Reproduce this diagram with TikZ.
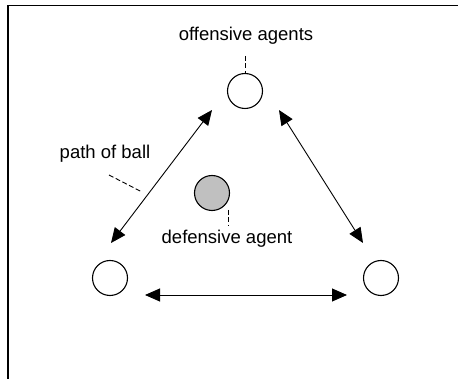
\documentclass[tikz,border=0pt]{standalone}
\usepackage{fontspec}
\setmainfont{Liberation Sans}
\usetikzlibrary{arrows.meta}
\begin{document}
\begin{tikzpicture}[x=1pt,y=-1pt,
  agent/.style={circle,draw,line width=1.1pt,minimum size=35pt,inner sep=0pt},
  lbl/.style={anchor=base,inner sep=0pt,font=\fontsize{18.5}{22}\selectfont},
  pass/.style={line width=0.9pt,{Triangle[length=15pt,width=13pt]}-{Triangle[length=15pt,width=13pt]}},
  tick/.style={dash pattern=on 5pt off 2.5pt,line width=0.9pt}]
\useasboundingbox (0,0) rectangle (458,379);
\draw[line width=1.3pt] (8,380) -- (8,5.5) -- (459,5.5);
\node[agent] (top) at (245,91) {};
\node[agent] (bl) at (110,278) {};
\node[agent] (br) at (381,278) {};
\node[agent,fill={rgb,255:red,192;green,192;blue,192}] (def) at (212,193) {};
\node[lbl] (offl) at (246,41) {offensive agents};
\node[lbl] (defl) at (227,244) {defensive agent};
\node[lbl] (pathl) at (105,159) {path of ball};
\coordinate (a1) at (212,110);
\coordinate (a2) at (111,243);
\coordinate (b1) at (279,110);
\coordinate (b2) at (363,243);
\coordinate (c1) at (145,295);
\coordinate (c2) at (347,295);
\draw[pass] (a1) -- (a2);
\draw[pass] (b1) -- (b2);
\draw[pass] (c1) -- (c2);
\coordinate (t1) at (245,56);
\coordinate (d1) at (228,210);
\coordinate (d2) at (228,226);
\coordinate (p1) at (109,175);
\coordinate (p2) at (142,192);
\draw[tick] (t1) -- (top.north);
\draw[tick] (d1) -- (d2);
\draw[tick] (p1) -- (p2);
\end{tikzpicture}
\end{document}
